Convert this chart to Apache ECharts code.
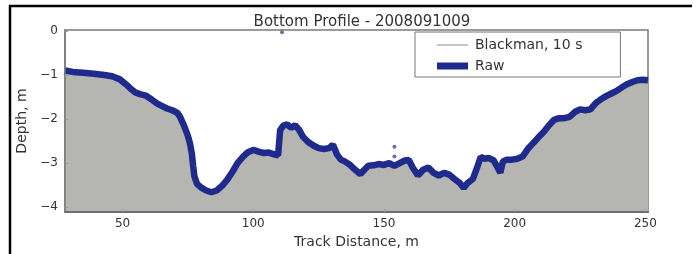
<!DOCTYPE html>
<html lang="en">
<head>
    <meta charset="UTF-8">
    <title>Bottom Profile</title>
    <script src="https://cdn.jsdelivr.net/npm/echarts@6/dist/echarts.min.js" type="text/javascript"></script>
</head>
<body>
<style>
    html, body {
        margin: 0;
        height: 100%;
        width: 100%;
        background: #fff;
    }

    #main {
        width: 700px;
        height: 254px;
    }
</style>
<div id="main"></div>
<script type="text/javascript">
    var distance = [28, 31, 35, 39, 43, 46, 49, 51.5, 53.5, 55, 57, 59, 61, 63, 65, 67, 69, 71, 72, 73, 74, 75, 75.8, 76.5, 77, 77.5, 78.5,
        80, 82, 84, 86, 88, 90, 92, 94, 96, 98, 100, 102, 104, 106, 108, 109.5, 110.3, 111.5, 113, 114.5, 116, 117.5, 119, 121,
        123, 125, 127, 129, 130.5, 132, 133.5, 135, 137, 139, 141, 142.5, 144, 146, 148, 150, 152, 154, 156, 158, 159.5, 161,
        163, 165, 167, 169, 171, 173, 175, 177, 179, 180.5, 182, 184, 185.5, 187, 188.5, 190, 192, 193.5, 194.5, 195.5, 197,
        199, 201, 203, 205, 207, 209, 211, 213, 215, 217, 219, 221, 223, 225, 227, 229, 231, 233, 235, 237, 239, 241, 243,
        245, 247, 249, 251]
    var depthRaw = [-0.90, -0.93, -0.95, -0.97, -1.00, -1.03, -1.10, -1.22, -1.33, -1.40, -1.44, -1.47, -1.55, -1.64, -1.70, -1.76,
        -1.80, -1.86, -1.95, -2.08, -2.22, -2.38, -2.55, -2.78, -3.05, -3.30, -3.47,
        -3.55, -3.62, -3.66, -3.62, -3.52, -3.38, -3.20, -3.00, -2.86, -2.75, -2.70, -2.74, -2.77, -2.76, -2.80, -2.82, -2.25,
        -2.15, -2.12, -2.20, -2.14, -2.24, -2.40, -2.52,
        -2.60, -2.66, -2.68, -2.66, -2.58, -2.80, -2.92, -2.96, -3.04, -3.15, -3.25, -3.15, -3.06, -3.05, -3.02, -3.04, -3.00,
        -3.06, -3.00, -2.94, -2.93, -3.10,
        -3.28, -3.15, -3.10, -3.22, -3.28, -3.22, -3.26, -3.36, -3.45, -3.56, -3.45, -3.36, -3.12, -2.86, -2.90, -2.88, -2.94,
        -3.10, -3.22, -2.96, -2.92,
        -2.92, -2.90, -2.85, -2.68, -2.55, -2.42, -2.30, -2.15, -2.02, -1.98, -1.98, -1.95, -1.84, -1.78, -1.80, -1.78, -1.64,
        -1.55, -1.48, -1.42, -1.36, -1.28, -1.21,
        -1.16, -1.12, -1.11, -1.12]
    // stray raw soundings off the profile
    var strayDist = [111, 154, 154]
    var strayDepth = [-0.03, -2.63, -2.85]
    var xTicks = [50, 100, 150, 200, 250]
    var yTicks = [0, -1, -2, -3, -4]

    var font = 'DejaVu Sans'
    var textColor = '#333'

    function pairs(xs, ys) {
        return xs.map((x, i) => [x, ys[i]])
    }

    var option = {
        animation: false,
        backgroundColor: '#fff',
        title: {
            text: 'Bottom Profile - 2008091009',
            left: 357,
            textAlign: 'center',
            top: 10,
            textStyle: {fontFamily: font, fontSize: 15, fontWeight: 'normal', color: textColor}
        },
        legend: {
            orient: 'vertical',
            left: 415,
            top: 32,
            padding: [6, 38, 4, 22],
            itemWidth: 31,
            itemHeight: 7,
            itemGap: 7,
            symbolKeepAspect: true,
            borderColor: '#777',
            borderWidth: 1,
            backgroundColor: '#fff',
            textStyle: {fontFamily: font, fontSize: 14, color: textColor, padding: [0, 0, 0, 2]},
            data: [
                {name: 'Blackman, 10 s', icon: 'path://M0,0L31,0L31,1L0,1Z', itemStyle: {color: '#8a8a8a'}},
                {name: 'Raw', icon: 'rect', itemStyle: {color: '#1f2b8c'}, lineStyle: {width: 0, opacity: 0}}
            ]
        },
        grid: {
            left: 65,
            right: 52,
            top: 30,
            bottom: 37,
            show: true,
            borderColor: '#7a7a7a',
            borderWidth: 1.5
        },
        xAxis: {
            type: 'value',
            min: 28,
            max: 251,
            z: 10,
            name: 'Track Distance, m',
            nameLocation: 'middle',
            nameGap: 22,
            nameTextStyle: {fontFamily: font, fontSize: 14, color: textColor},
            axisLine: {show: true, onZero: false, lineStyle: {color: '#6e6e6e', width: 2}},
            axisTick: {show: true, inside: true, length: 3, customValues: xTicks, lineStyle: {color: '#999'}},
            axisLabel: {customValues: xTicks, fontFamily: font, fontSize: 12, color: textColor, margin: 6},
            splitLine: {show: false}
        },
        yAxis: {
            type: 'value',
            min: -4.11,
            max: 0.02,
            z: 10,
            name: 'Depth, m',
            nameLocation: 'middle',
            nameGap: 36,
            nameTextStyle: {fontFamily: font, fontSize: 14, color: textColor},
            axisLine: {show: true, onZero: false, lineStyle: {color: '#7a7a7a', width: 1.5}},
            axisTick: {show: true, inside: true, length: 3, customValues: yTicks, lineStyle: {color: '#999'}},
            axisLabel: {
                customValues: yTicks, fontFamily: font, fontSize: 12, color: textColor, margin: 7,
                formatter: v => (v < 0 ? '\u2212' + Math.abs(v) : '' + v)
            },
            splitLine: {show: false}
        },
        graphic: [
            {type: 'line', shape: {x1: 9, y1: 6, x2: 692, y2: 6}, style: {stroke: '#000', lineWidth: 2.5}},
            {type: 'line', shape: {x1: 10, y1: 5, x2: 10, y2: 254}, style: {stroke: '#000', lineWidth: 2.5}}
        ],
        series: [
            {
                name: 'Blackman, 10 s',
                type: 'line',
                data: pairs(distance, depthRaw),
                symbol: 'none',
                lineStyle: {color: '#9a9a9a', width: 1},
                itemStyle: {color: '#8a8a8a'},
                areaStyle: {origin: 'start', color: '#b5b6b1', opacity: 1},
                z: 2
            },
            {
                name: 'Raw',
                type: 'line',
                data: pairs(distance, depthRaw),
                symbol: 'none',
                lineStyle: {color: '#1f2b8c', width: 6.5},
                itemStyle: {color: '#1f2b8c'},
                z: 3
            },
            {
                name: 'stray',
                type: 'scatter',
                data: pairs(strayDist, strayDepth),
                symbolSize: 4,
                itemStyle: {color: '#4a4a9a'},
                z: 4
            }
        ]
    };
    var myChart = echarts.init(document.getElementById('main'));
    myChart.setOption(option);
</script>
</body>
</html>
